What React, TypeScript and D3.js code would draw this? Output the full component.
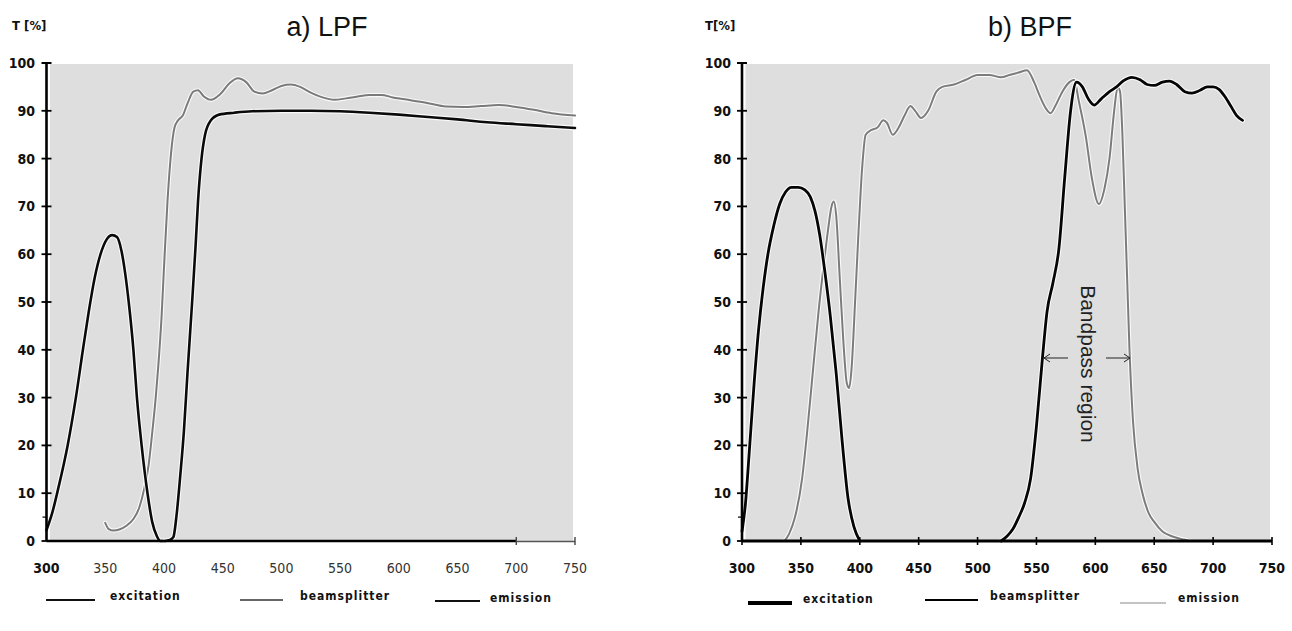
import React from "react";
import * as d3 from "d3";

type Pt = [number, number];

const xTickValues = [300, 350, 400, 450, 500, 550, 600, 650, 700, 750];
const yTickValues = [0, 10, 20, 30, 40, 50, 60, 70, 80, 90, 100];

const lpfExcitation: Pt[] = [
  [300, 2.3], [305, 6], [310, 11], [318, 20], [325, 30], [331, 40], [336, 48], [341, 55],
  [346, 60], [351, 63], [356, 64], [360, 63.6], [364, 60.5], [367, 56], [370, 50], [374, 40], [377, 30],
  [381, 20], [386, 10], [390, 4], [394, 1], [397, 0], [401, 0],
];
const lpfBeamsplitter: Pt[] = [
  [350, 3.8], [353, 2.5], [357, 2.2], [362, 2.4], [368, 3.2], [374, 4.6], [379, 7], [383, 10.7],
  [387, 16], [390, 22.6], [393, 30], [395, 36], [398, 47], [400, 57], [403, 71], [406, 81],
  [409, 86.5], [412, 88], [416, 89], [420, 91.5], [425, 94], [429, 94.3], [434, 93], [440, 92.3],
  [448, 93.5], [456, 95.8], [463, 96.8], [470, 96], [477, 94], [484, 93.6], [492, 94.3], [500, 95.2],
  [508, 95.5], [516, 95], [525, 93.8], [535, 92.8], [545, 92.3], [555, 92.6], [565, 93], [575, 93.3],
  [585, 93.3], [595, 92.8], [610, 92.2], [625, 91.6], [640, 90.9], [655, 90.8], [670, 91], [685, 91.2],
  [700, 90.8], [715, 90.2], [730, 89.5], [750, 89],
];
const lpfEmission: Pt[] = [
  [401, 0], [405, 0.2], [408, 0.8], [411, 6], [414, 14], [417, 23], [420, 35], [424, 50], [427, 62],
  [429, 71], [432, 80], [435, 85], [440, 88], [447, 89.2], [460, 89.6], [475, 89.9], [500, 90],
  [525, 90], [550, 89.9], [575, 89.6], [600, 89.2], [625, 88.7], [650, 88.2], [675, 87.6],
  [700, 87.2], [725, 86.8], [750, 86.4],
];

const bpfExcitation: Pt[] = [
  [300, 2], [303, 8], [306, 18], [310, 32], [314, 44], [318, 53], [322, 60], [327, 66], [332, 70.5],
  [337, 73], [342, 74], [348, 74], [353, 73.5], [358, 72], [362, 69], [366, 64], [370, 57], [375, 47],
  [380, 35], [385, 21], [390, 9], [395, 3], [400, 0],
];
const bpfBeamsplitter: Pt[] = [
  [520, 0], [525, 1], [530, 2.5], [535, 5], [540, 8], [545, 13], [550, 24], [555, 38], [559, 48],
  [564, 54], [569, 61], [574, 76], [579, 90], [584, 96], [589, 95], [594, 92.5], [599, 91.2],
  [605, 92.5], [612, 94], [618, 95], [624, 96.3], [631, 97], [638, 96.5], [644, 95.5], [650, 95.3],
  [657, 96], [663, 96.2], [669, 95.5], [676, 94], [682, 93.7], [689, 94.3], [695, 95], [700, 95],
  [705, 94.5], [710, 93], [715, 91], [720, 89], [725, 88],
];
const bpfEmission: Pt[] = [
  [336, 0], [340, 1.5], [345, 5], [351, 13], [355, 22], [360, 35], [365, 48], [370, 59], [373, 65],
  [376, 70], [378, 71], [380, 68], [383, 55], [386, 42], [389, 33], [391, 32], [393, 36], [396, 50],
  [399, 65], [402, 78], [405, 85], [410, 86], [415, 86.5], [420, 88], [423, 87.5], [428, 85],
  [433, 86.5], [438, 89], [443, 91], [447, 90], [452, 88.5], [458, 90], [465, 94], [470, 95],
  [480, 95.5], [490, 96.5], [500, 97.5], [510, 97.5], [520, 97], [527, 97.5], [535, 98], [542, 98.5],
  [548, 96], [553, 93], [558, 90.5], [562, 89.5], [566, 91], [572, 94], [578, 96], [582, 96.5],
  [586, 92], [592, 84.5], [597, 76], [603, 70.5], [608, 74], [612, 80], [616, 90], [619, 95],
  [621, 94], [623, 85], [625, 70], [627, 55], [629, 40], [632, 25], [636, 15], [640, 10], [645, 6],
  [650, 4], [657, 2], [665, 1], [675, 0.3], [680, 0],
];

const legendLabels = ["excitation", "beamsplitter", "emission"];
const titles = ["a) LPF", "b) BPF"];
const yAxisLabels = ["T [%]", "T[%]"];
const annotation = "Bandpass region";

const NARROW = "'Liberation Sans Narrow', 'DejaVu Sans Condensed', 'Arial Narrow', sans-serif";
const SANS = "'Liberation Sans', Arial, Helvetica, sans-serif";
const BG = "#dedede";

const y = d3.scaleLinear().domain([0, 100]).range([541, 63]);
const xL = d3.scaleLinear().domain([300, 750]).range([46.5, 575]);
const xR = d3.scaleLinear().domain([300, 750]).range([742, 1272]);

function path(xs: d3.ScaleLinear<number, number>, data: Pt[]) {
  return d3
    .line<Pt>()
    .x((d) => xs(d[0]))
    .y((d) => y(d[1]))
    .curve(d3.curveMonotoneX)(data) as string;
}

function Curve({ xs, data, color, width }: { xs: any; data: Pt[]; color: string; width: number }) {
  const d = path(xs, data);
  return (
    <g>
      <path d={d} fill="none" stroke="#fff" strokeOpacity={0.85} strokeWidth={width + 2.2} strokeLinejoin="round" strokeLinecap="round" />
      <path d={d} fill="none" stroke={color} strokeWidth={width} strokeLinejoin="round" strokeLinecap="round" />
    </g>
  );
}

function YAxis({ xs, labelX }: { xs: any; labelX: number }) {
  const ax = xs(300);
  return (
    <g>
      <line x1={ax} x2={ax} y1={y(100)} y2={y(0)} stroke="#000" strokeWidth={2.6} />
      <line x1={ax - 5} x2={ax + 5} y1={y(100)} y2={y(100)} stroke="#000" strokeWidth={2} />
      {yTickValues.filter((v) => v < 100).map((v) => (
        <line key={v} x1={ax - 5} x2={ax + 5} y1={y(v)} y2={y(v)} stroke="#000" strokeWidth={1.8} />
      ))}
      <line x1={ax - 4} x2={ax} y1={y(5)} y2={y(5)} stroke="#000" strokeWidth={1.2} />
      {yTickValues.map((v) => (
        <text key={v} x={labelX} y={y(v)} dy="0.35em" textAnchor="end" fontFamily={NARROW} fontWeight="bold" fontSize={14} fill="#111">
          {v}
        </text>
      ))}
    </g>
  );
}

export default function App() {
  return (
    <svg width={1292} height={631} style={{ position: "absolute", left: 0, top: 0, background: "#fff" }}>
      {/* plot backgrounds */}
      <rect x={xL(300) + 3.5} y={y(100) + 1} width={573 - (xL(300) + 3.5)} height={y(0) - y(100) - 1} fill={BG} />
      <rect x={xR(300) + 3.5} y={y(100) + 1} width={1270 - (xR(300) + 3.5)} height={y(0) - y(100) - 1} fill={BG} />

      {/* titles */}
      <text x={327} y={36} textAnchor="middle" fontFamily={SANS} fontSize={27} fill="#111">{titles[0]}</text>
      <text x={1030} y={36} textAnchor="middle" fontFamily={SANS} fontSize={27} fill="#111">{titles[1]}</text>
      <text x={12} y={30} fontFamily={NARROW} fontWeight="bold" fontSize={13} fill="#111">{yAxisLabels[0]}</text>
      <text x={705} y={30} fontFamily={NARROW} fontWeight="bold" fontSize={13} fill="#111">{yAxisLabels[1]}</text>

      {/* ===== Left panel (LPF) ===== */}
      <Curve xs={xL} data={lpfBeamsplitter} color="#7a7a7a" width={2} />
      <Curve xs={xL} data={lpfExcitation} color="#0a0a0a" width={2.6} />
      <Curve xs={xL} data={lpfEmission} color="#0a0a0a" width={2.6} />
      {/* x axis */}
      <line x1={xL(300)} x2={xL(700)} y1={y(0)} y2={y(0)} stroke="#000" strokeWidth={2.6} />
      <line x1={xL(700)} x2={xL(750)} y1={y(0) + 0.5} y2={y(0) + 0.5} stroke="#555" strokeWidth={1.5} />
      {xTickValues.filter((v) => v >= 700).map((v) => (
        <line key={v} x1={xL(v)} x2={xL(v)} y1={y(0) - 4} y2={y(0) + 4} stroke="#444" strokeWidth={1.4} />
      ))}
      {xTickValues.map((v, i) => (
        <text key={v} x={xL(v)} y={y(0) + 32} textAnchor="middle" fontFamily={NARROW}
          fontWeight={i === 0 ? "bold" : "normal"} fontSize={14} fill={i === 0 ? "#111" : "#333"}>
          {v}
        </text>
      ))}
      <YAxis xs={xL} labelX={35} />

      {/* left legend */}
      <line x1={46} x2={95} y1={600} y2={600} stroke="#111" strokeWidth={2} />
      <text x={110} y={600} fontFamily={NARROW} fontWeight="bold" fontSize={12} letterSpacing={1} fill="#111">{legendLabels[0]}</text>
      <line x1={240} x2={283} y1={600} y2={600} stroke="#333" strokeWidth={1.4} />
      <text x={300} y={600} fontFamily={NARROW} fontWeight="bold" fontSize={12} letterSpacing={1} fill="#111">{legendLabels[1]}</text>
      <line x1={435} x2={480} y1={601} y2={601} stroke="#111" strokeWidth={2} />
      <text x={490} y={602} fontFamily={NARROW} fontWeight="bold" fontSize={12} letterSpacing={1} fill="#111">{legendLabels[2]}</text>

      {/* ===== Right panel (BPF) ===== */}
      <Curve xs={xR} data={bpfEmission} color="#7c7c7c" width={2} />
      <Curve xs={xR} data={bpfExcitation} color="#050505" width={2.8} />
      <Curve xs={xR} data={bpfBeamsplitter} color="#050505" width={2.8} />
      <line x1={xR(300)} x2={xR(750)} y1={y(0)} y2={y(0)} stroke="#000" strokeWidth={2.8} />
      {xTickValues.map((v) => (
        <line key={v} x1={xR(v)} x2={xR(v)} y1={y(0) - 4} y2={y(0) + 4} stroke="#000" strokeWidth={1.6} />
      ))}
      {xTickValues.map((v) => (
        <text key={v} x={xR(v)} y={y(0) + 32} textAnchor="middle" fontFamily={NARROW} fontWeight="bold" fontSize={14} fill="#111">
          {v}
        </text>
      ))}
      <YAxis xs={xR} labelX={731} />

      {/* annotation */}
      <text transform={`translate(1081, 364) rotate(90)`} textAnchor="middle" fontFamily={SANS} fontSize={21} fill="#222">
        {annotation}
      </text>
      <g stroke="#222" strokeWidth={1} fill="none">
        <line x1={1068} x2={1044} y1={358} y2={358} />
        <polyline points="1050,354 1044,358 1050,362" />
        <line x1={1106} x2={1130} y1={358} y2={358} />
        <polyline points="1124,354 1130,358 1124,362" />
      </g>

      {/* right legend */}
      <line x1={748} x2={792} y1={603} y2={603} stroke="#000" strokeWidth={4} />
      <text x={803} y={603} fontFamily={NARROW} fontWeight="bold" fontSize={12} letterSpacing={1} fill="#111">{legendLabels[0]}</text>
      <line x1={925} x2={978} y1={600} y2={600} stroke="#000" strokeWidth={2} />
      <text x={990} y={600} fontFamily={NARROW} fontWeight="bold" fontSize={12} letterSpacing={1} fill="#111">{legendLabels[1]}</text>
      <line x1={1120} x2={1166} y1={603} y2={603} stroke="#888" strokeWidth={1} />
      <text x={1178} y={602} fontFamily={NARROW} fontWeight="bold" fontSize={12} letterSpacing={1} fill="#111">{legendLabels[2]}</text>
    </svg>
  );
}
